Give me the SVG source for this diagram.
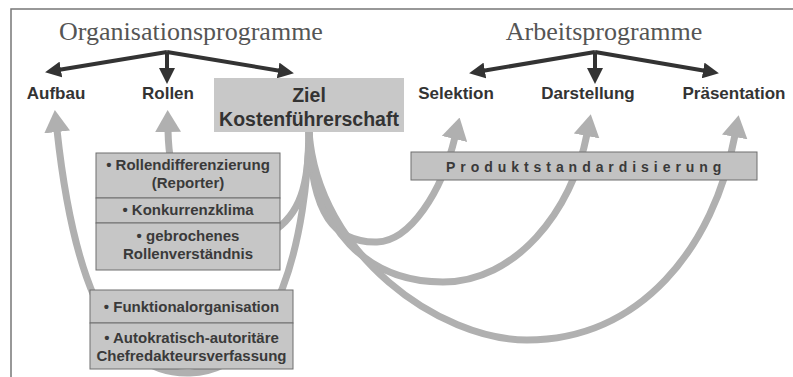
<svg xmlns="http://www.w3.org/2000/svg" width="793" height="377" viewBox="0 0 793 377">
<defs>
<style>
.title{font-family:"Liberation Serif","Times New Roman",serif;font-size:26px;fill:#555;text-anchor:middle}
.lbl{font-family:"Liberation Sans",Arial,sans-serif;font-weight:bold;font-size:17px;fill:#333;text-anchor:middle}
.bx{font-family:"Liberation Sans",Arial,sans-serif;font-weight:bold;font-size:15px;fill:#3a3a3a;text-anchor:middle}
.box{fill:#c6c6c6;stroke:#6e6e6e;stroke-width:1}
.dark{fill:none;stroke:#333;stroke-width:4;marker-end:url(#dh)}
.gray{fill:none;stroke:#b0b0b0;stroke-width:7;marker-end:url(#gh)}
.frame{fill:none;stroke:#777;stroke-width:1.5}
</style>
<marker id="dh" markerUnits="userSpaceOnUse" markerWidth="16" markerHeight="16" viewBox="0 0 16 16" refX="9" refY="8" orient="auto">
<path d="M0,0 L16,8 L0,16 z" fill="#333"/>
</marker>
<marker id="gh" markerUnits="userSpaceOnUse" markerWidth="22" markerHeight="26" viewBox="0 0 22 26" refX="2" refY="13" orient="auto">
<path d="M0,0 L22,13 L0,26 z" fill="#b0b0b0"/>
</marker>
</defs>
<rect width="793" height="377" fill="#fff"/>
<path class="frame" d="M11 377 L11 9 L793 9"/>

<g id="connectors">
<path class="gray" d="M309 132 C307 230 280 370 190 373 C100 376 70 250 57 130"/>
<path class="gray" d="M309 132 C309 185 300 215 272 232 C240 250 170 240 168 130"/>
<path class="gray" d="M309 132 C311 215 335 243 377 242 C410 241 442 192 455 137"/>
<path class="gray" d="M309 132 C312 232 370 282 443 282 C515 282 572 212 587 134"/>
<path class="gray" d="M309 132 C318 255 440 340 527 340 C640 340 714 248 735 135"/>
<path class="dark" d="M167 52 L52 71"/>
<path class="dark" d="M167 52 L167 77"/>
<path class="dark" d="M167 52 L287 72"/>
<path class="dark" d="M595 52 L476 72"/>
<path class="dark" d="M595 52 L595 77"/>
<path class="dark" d="M595 52 L712 72"/>
</g>

<g id="organisationsprogramme"><text class="title" x="191" y="40">Organisationsprogramme</text></g>
<g id="arbeitsprogramme"><text class="title" x="604" y="40">Arbeitsprogramme</text></g>

<g id="aufbau"><text class="lbl" x="56" y="99">Aufbau</text></g>
<g id="rollen"><text class="lbl" x="168" y="99">Rollen</text></g>
<g id="selektion"><text class="lbl" x="456" y="99">Selektion</text></g>
<g id="darstellung"><text class="lbl" x="588" y="99">Darstellung</text></g>
<g id="praesentation"><text class="lbl" x="734" y="99">Präsentation</text></g>

<g id="ziel">
<rect x="214" y="78" width="190" height="54" fill="#c8c8c8"/>
<text class="lbl" x="309" y="102" style="font-size:19.5px">Ziel</text>
<text class="lbl" x="309" y="126" style="font-size:19.5px">Kostenführerschaft</text>
</g>

<g id="rollenbox">
<rect class="box" x="96" y="153" width="184" height="45"/>
<text class="bx" x="188" y="170">• Rollendifferenzierung</text>
<text class="bx" x="188" y="188">(Reporter)</text>
<rect class="box" x="96" y="198" width="184" height="25"/>
<text class="bx" x="188" y="215">• Konkurrenzklima</text>
<rect class="box" x="96" y="223" width="184" height="47"/>
<text class="bx" x="188" y="241">• gebrochenes</text>
<text class="bx" x="188" y="259">Rollenverständnis</text>
</g>

<g id="aufbaubox">
<rect class="box" x="90" y="290" width="203" height="33"/>
<text class="bx" x="191.5" y="312">• Funktionalorganisation</text>
<rect class="box" x="90" y="323" width="203" height="46"/>
<text class="bx" x="191.5" y="343">• Autokratisch-autoritäre</text>
<text class="bx" x="191.5" y="361">Chefredakteursverfassung</text>
</g>

<g id="produktstandardisierung">
<rect class="box" x="411" y="152" width="346" height="28" style="fill:#c2c2c2"/>
<text class="bx" x="446" y="172" style="text-anchor:start;font-size:14px;letter-spacing:4.95px">Produktstandardisierung</text>
</g>
</svg>
